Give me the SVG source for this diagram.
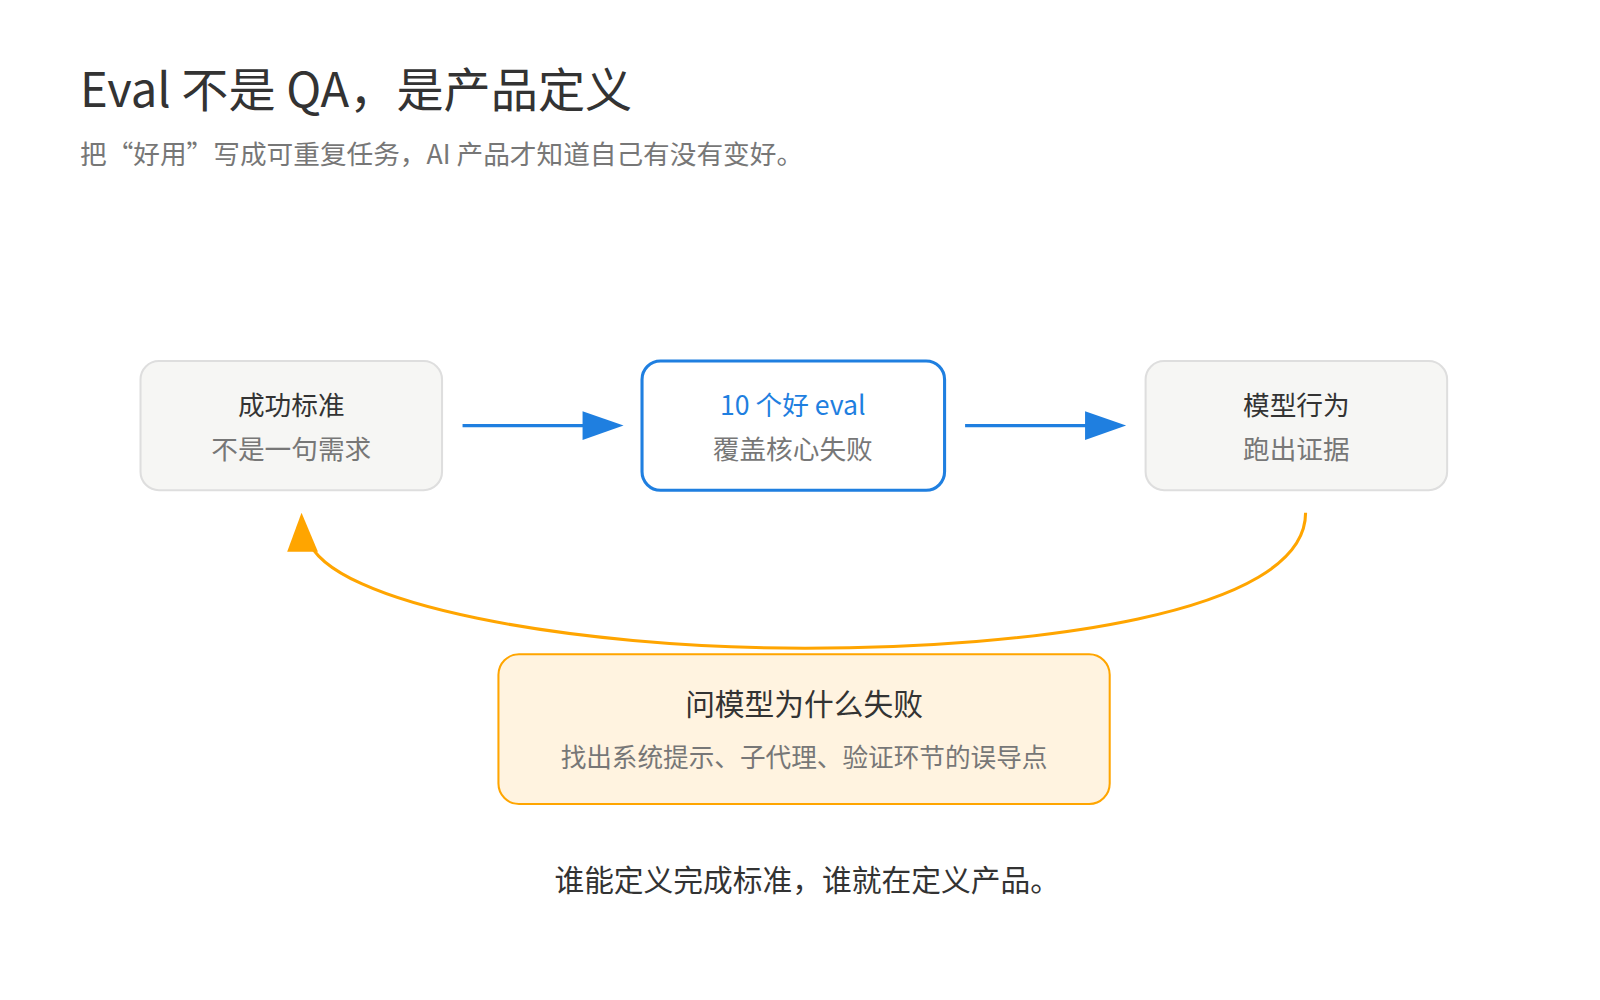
<svg xmlns="http://www.w3.org/2000/svg" width="1600" height="1000" viewBox="0 0 1600 1000">
<style>
text{font-family:"Noto Sans CJK SC","Noto Sans",sans-serif}
.box{fill:#f6f6f4;stroke:#dedede;stroke-width:2}
.t{font-size:26px;fill:#333;text-anchor:middle}
.s{font-size:26px;fill:#777;text-anchor:middle}
</style>
<rect width="1600" height="1000" fill="#fff"/>
<g transform="scale(1.0256)">
<text x="78" y="104" font-size="46" fill="#333">Eval 不是 QA，是产品定义</text>
<text x="78" y="160" font-size="26" fill="#777">把“好用”写成可重复任务，AI 产品才知道自己有没有变好。</text>
<g id="connectors">
<line x1="451" y1="415" x2="572" y2="415" stroke="#1f7fe0" stroke-width="3"/>
<path d="M568,401L608,415L568,429Z" fill="#1f7fe0"/>
<line x1="941" y1="415" x2="1062" y2="415" stroke="#1f7fe0" stroke-width="3"/>
<path d="M1058,401L1098,415L1058,429Z" fill="#1f7fe0"/>
<path d="M1273,500C1273,600 1000,632 785,632C560,632 320,590 300,525" fill="none" stroke="#ffa500" stroke-width="3"/>
<path d="M294,500L280,538L310,538Z" fill="#ffa500"/>
</g>
<g id="n1"><rect class="box" x="137" y="352" width="294" height="126" rx="18"/><text class="t" x="284" y="405">成功标准</text><text class="s" x="284" y="448">不是一句需求</text></g>
<g id="n2"><rect x="626" y="352" width="295" height="126" rx="18" fill="#fff" stroke="#1f7fe0" stroke-width="3"/><text class="t" x="773" y="405" style="fill:#1f7fe0">10 个好 eval</text><text class="s" x="773" y="448">覆盖核心失败</text></g>
<g id="n3"><rect class="box" x="1117" y="352" width="294" height="126" rx="18"/><text class="t" x="1264" y="405">模型行为</text><text class="s" x="1264" y="448">跑出证据</text></g>
<g id="n4"><rect x="486" y="638" width="596" height="146" rx="20" fill="#fff3e0" stroke="#ffa500" stroke-width="2"/><text class="t" x="784" y="697" style="font-size:29px">问模型为什么失败</text><text class="s" x="784" y="748" style="font-size:25px">找出系统提示、子代理、验证环节的误导点</text></g>
<text x="787" y="869" font-size="29" fill="#333" text-anchor="middle">谁能定义完成标准，谁就在定义产品。</text>
</g>
</svg>
